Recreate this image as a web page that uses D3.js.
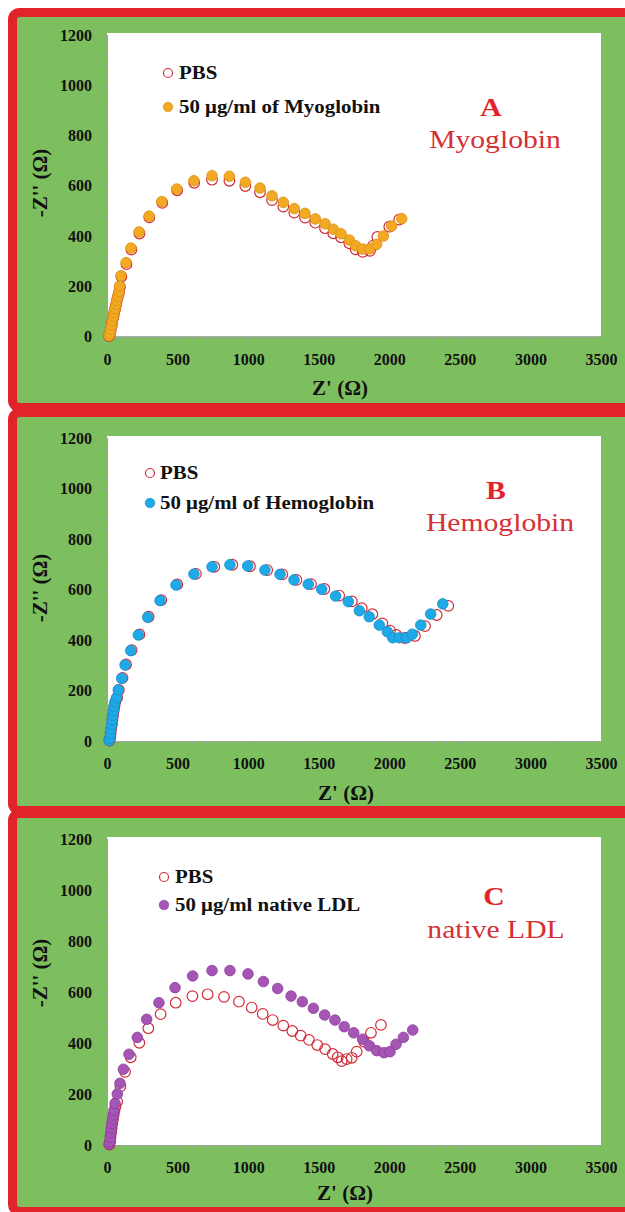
<!DOCTYPE html>
<html><head><meta charset="utf-8">
<script src="https://cdn.jsdelivr.net/npm/d3@7"></script>
<style>body{margin:0;background:#fff}svg{display:block}</style>
</head><body>
<svg id="c" width="625" height="1212"></svg>
<script>
// ---------- DATA ----------
const xTicks = [0, 500, 1000, 1500, 2000, 2500, 3000, 3500];
const yTicks = [0, 200, 400, 600, 800, 1000, 1200];
const panelLetters = ["A", "B", "C"];
const panelTitles = ["Myoglobin", "Hemoglobin", "native LDL"];
const legendA = ["PBS", "50 μg/ml of Myoglobin"];
const legendB = ["PBS", "50 μg/ml of Hemoglobin"];
const legendC = ["PBS", "50 μg/ml native LDL"];

const pbsA = [[15,2],[21,10],[26,25],[33,42],[37,58],[45,75],[50,92],[57,108],[64,125],[69,141],[76,157],[85,174],[92,197],[102,238],[138,288],[173,346],[230,410],[300,474],[392,532],[497,582],[618,612],[744,624],[867,620],[980,599],[1084,574],[1169,543],[1249,517],[1327,493],[1403,473],[1476,453],[1545,431],[1603,411],[1658,395],[1717,371],[1762,347],[1812,337],[1863,341],[1885,362],[1915,396],[2000,437],[2070,465]];
const myoglobinA = [[15,3],[21,13],[26,29],[33,46],[37,62],[45,79],[50,96],[57,112],[64,129],[69,145],[76,161],[85,178],[90,201],[99,242],[135,294],[170,352],[227,416],[298,479],[388,537],[494,587],[616,620],[744,640],[867,638],[980,614],[1084,591],[1169,560],[1249,534],[1327,509],[1403,490],[1476,468],[1545,449],[1603,427],[1658,409],[1717,384],[1762,361],[1812,348],[1863,349],[1911,367],[1958,400],[2017,440],[2088,469]];

const pbsB = [[17,2],[23,12],[26,30],[30,48],[35,66],[39,84],[43,102],[48,120],[53,138],[60,155],[72,172],[84,202],[110,250],[135,303],[175,360],[230,422],[295,492],[385,558],[498,620],[630,662],[760,690],[888,698],[1013,692],[1135,677],[1242,660],[1342,638],[1445,621],[1540,602],[1645,576],[1735,553],[1805,526],[1880,502],[1951,466],[2005,437],[2050,420],[2111,408],[2182,416],[2253,455],[2336,499],[2418,535]];
const hemoglobinB = [[15,2],[21,12],[24,30],[28,48],[33,66],[37,84],[41,102],[45,120],[50,138],[57,155],[69,172],[80,202],[104,248],[128,301],[168,358],[222,420],[288,490],[376,556],[489,618],[616,661],[744,690],[871,698],[997,693],[1119,677],[1226,660],[1325,638],[1426,621],[1521,601],[1620,574],[1710,552],[1788,516],[1858,492],[1929,459],[1986,433],[2024,409],[2071,409],[2123,409],[2163,423],[2223,459],[2293,503],[2379,543]];

const pbsC = [[17,2],[22,12],[25,30],[29,48],[33,66],[37,84],[42,101],[47,118],[53,135],[60,150],[72,170],[95,230],[128,287],[168,344],[229,401],[293,458],[380,513],[487,558],[605,584],[713,591],[829,581],[935,562],[1025,539],[1103,514],[1174,490],[1249,468],[1313,447],[1372,429],[1431,412],[1490,392],[1545,376],[1599,357],[1635,344],[1663,329],[1698,337],[1734,342],[1769,366],[1822,405],[1870,440],[1941,471]];
const ldlC = [[15,3],[21,13],[24,30],[28,48],[31,66],[35,84],[40,101],[45,118],[50,135],[57,163],[73,200],[92,242],[116,297],[156,356],[215,422],[281,493],[368,558],[482,617],[607,663],[744,684],[871,684],[999,671],[1108,641],[1209,614],[1304,584],[1384,562],[1462,536],[1542,510],[1615,490],[1681,464],[1748,440],[1811,415],[1859,389],[1911,370],[1963,362],[2005,366],[2048,395],[2100,422],[2166,451]];

// ---------- LAYOUT / STYLE ----------
const FONT = "'Liberation Serif','Times New Roman',serif";
const GREEN = "#7dbf5f", RED = "#e3232a";
const panels = [
  {fy:12.5, fh:395, y0:336.5, y1:35, legMX:168, legTX:179, legY:[73,107], ltX:491, ltY:116, tX:495, tY:148, yTY:183, xTX:340, xTY:395,
   pbs:pbsA, sample:myoglobinA, fill:"#f2aa24", stroke:"#d98f12", legend:legendA},
  {fy:412.5, fh:398, y0:741, y1:438, legMX:150, legTX:160, legY:[473,503], ltX:496, ltY:499, tX:500, tY:531, yTY:588, xTX:346, xTY:800,
   pbs:pbsB, sample:hemoglobinB, fill:"#1eaae6", stroke:"#1a8ccb", legend:legendB},
  {fy:813.5, fh:398, y0:1145, y1:839, legMX:164, legTX:175, legY:[877,905], ltX:494, ltY:905, tX:496, tY:938, yTY:973, xTX:345, xTY:1200,
   pbs:pbsC, sample:ldlC, fill:"#a555b4", stroke:"#8a3d9b", legend:legendC}
];

const svg = d3.select("#c");
const x = d3.scaleLinear().domain([0, 3500]).range([107, 601]);

panels.forEach((p, i) => {
  const y = d3.scaleLinear().domain([0, 1200]).range([p.y0, p.y1]);
  const g = svg.append("g");
  // frame
  g.append("rect").attr("x", 12.5).attr("y", p.fy).attr("width", 620).attr("height", p.fh)
    .attr("rx", 7).attr("fill", GREEN).attr("stroke", RED).attr("stroke-width", 9);
  // plot area
  g.append("rect").attr("x", x(0)).attr("y", y(1200) - 2).attr("width", x(3500) - x(0))
    .attr("height", y(0) - y(1200) + 2).attr("fill", "#fff");

  // minor ticks
  const minorX = d3.axisBottom(x).tickValues(d3.range(0, 3501, 100)).tickSize(3).tickFormat("");
  const gmx = g.append("g").attr("transform", `translate(0,${y(0)})`).call(minorX);
  const minorY = d3.axisLeft(y).tickValues(d3.range(0, 1201, 40)).tickSize(3).tickFormat("");
  const gmy = g.append("g").attr("transform", `translate(${x(0)},0)`).call(minorY);
  [gmx, gmy].forEach(a => { a.selectAll("path,line").attr("stroke", "#9aa59a").attr("stroke-width", 1); });

  // major axes
  const ax = d3.axisBottom(x).tickValues(xTicks).tickSize(4).tickPadding(13).tickFormat(d3.format("d"));
  const gx = g.append("g").attr("transform", `translate(0,${y(0)})`).call(ax);
  const ay = d3.axisLeft(y).tickValues(yTicks).tickSize(4).tickPadding(11).tickFormat(d3.format("d"));
  const gy = g.append("g").attr("transform", `translate(${x(0)},0)`).call(ay);
  [gx, gy].forEach(a => {
    a.selectAll("path,line").attr("stroke", "#9aa59a").attr("stroke-width", 1);
    a.selectAll("text").attr("font-family", FONT).attr("font-weight", "bold")
      .attr("font-size", 16).attr("fill", "#111");
  });

  // axis titles
  g.append("text").attr("x", p.xTX).attr("y", p.xTY).attr("text-anchor", "middle")
    .attr("font-family", FONT).attr("font-weight", "bold").attr("font-size", 21).attr("fill", "#111")
    .text("Z' (Ω)");
  g.append("text").attr("transform", `translate(40,${p.yTY}) rotate(-90)`).attr("text-anchor", "middle")
    .attr("dy", "0.35em").attr("font-family", FONT).attr("font-weight", "bold").attr("font-size", 21)
    .attr("fill", "#111").text("-Z'' (Ω)");

  // data: PBS (hollow) then sample (filled)
  g.append("g").selectAll("circle").data(p.pbs).join("circle")
    .attr("cx", d => x(d[0])).attr("cy", d => y(d[1])).attr("r", 5.3)
    .attr("fill", "none").attr("stroke", "#d42c3a").attr("stroke-width", 1.2);
  g.append("g").selectAll("circle").data(p.sample).join("circle")
    .attr("cx", d => x(d[0])).attr("cy", d => y(d[1])).attr("r", 5.3)
    .attr("fill", p.fill).attr("stroke", p.stroke).attr("stroke-width", 0.8);

  // legend
  g.append("circle").attr("cx", p.legMX).attr("cy", p.legY[0]).attr("r", 4.5)
    .attr("fill", "none").attr("stroke", "#d42c3a").attr("stroke-width", 1.2);
  g.append("circle").attr("cx", p.legMX).attr("cy", p.legY[1]).attr("r", 4.8)
    .attr("fill", p.fill).attr("stroke", p.stroke).attr("stroke-width", 0.6);
  p.legend.forEach((t, k) => {
    g.append("text").attr("transform", `translate(${p.legTX},${p.legY[k] + 6}) scale(1.16,1)`)
      .attr("font-family", FONT).attr("font-weight", "bold").attr("font-size", 18).attr("fill", "#111")
      .text(t);
  });

  // panel labels
  g.append("text").attr("transform", `translate(${p.ltX},${p.ltY}) scale(1.14,1)`).attr("text-anchor", "middle")
    .attr("font-family", FONT).attr("font-weight", "bold").attr("font-size", 26).attr("fill", RED)
    .text(panelLetters[i]);
  g.append("text").attr("transform", `translate(${p.tX},${p.tY}) scale(1.14,1)`).attr("text-anchor", "middle")
    .attr("font-family", FONT).attr("font-size", 26).attr("fill", "#d62f36")
    .text(panelTitles[i]);
});
</script>
</body></html>
